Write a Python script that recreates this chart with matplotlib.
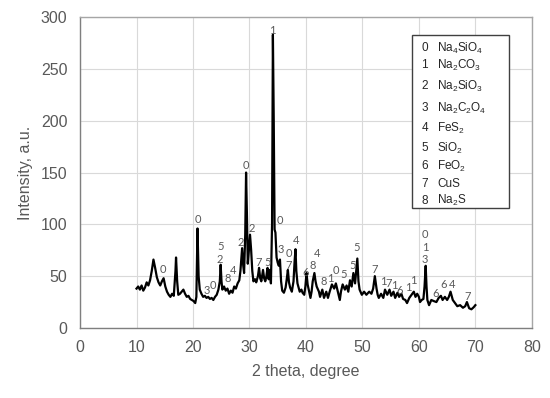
import matplotlib
matplotlib.use("Agg")
import matplotlib.pyplot as plt
from matplotlib.patches import Rectangle

plt.rcParams['font.family'] = ['Liberation Sans', 'DejaVu Sans']
plt.rcParams['mathtext.fontset'] = 'custom'
plt.rcParams['mathtext.rm'] = 'Liberation Sans'
plt.rcParams['mathtext.it'] = 'Liberation Sans:italic'
plt.rcParams['mathtext.default'] = 'rm'

# XRD pattern
two_theta = [10.0, 10.3, 10.6, 10.9, 11.2, 11.5, 11.8, 12.1, 12.4, 12.7, 13.0, 13.3, 13.6, 13.9,
             14.2, 14.5, 14.8, 15.1, 15.4, 15.7, 16.0, 16.3, 16.6, 16.9, 17.0, 17.2, 17.4, 17.7,
             18.0, 18.3, 18.6, 18.9, 19.2, 19.5, 19.8, 20.1, 20.4, 20.6, 20.8, 21.0, 21.2, 21.5,
             21.8, 22.1, 22.4, 22.7, 23.0, 23.3, 23.6, 23.9, 24.2, 24.5, 24.75, 24.9, 25.05, 25.2,
             25.5, 25.8, 26.1, 26.4, 26.7, 27.0, 27.3, 27.6, 27.9, 28.2, 28.4, 28.7, 28.9, 29.05,
             29.25, 29.4, 29.55, 29.7, 29.9, 30.1, 30.3, 30.5, 30.7, 31.0, 31.2, 31.5, 31.7, 31.9,
             32.1, 32.4, 32.6, 32.8, 33.0, 33.2, 33.4, 33.6, 33.8, 34.0, 34.15, 34.3, 34.45, 34.6,
             34.8, 35.0, 35.2, 35.4, 35.6, 35.8, 36.1, 36.4, 36.6, 36.8, 37.0, 37.2, 37.5, 37.8,
             38.0, 38.15, 38.3, 38.5, 38.9, 39.2, 39.4, 39.7, 39.9, 40.1, 40.3, 40.5, 40.8, 41.0,
             41.2, 41.5, 41.7, 41.9, 42.3, 42.5, 42.9, 43.2, 43.6, 43.9, 44.2, 44.6, 45.0, 45.3,
             45.7, 46.0, 46.2, 46.5, 46.9, 47.2, 47.5, 47.8, 48.1, 48.4, 48.7, 48.9, 49.1, 49.3,
             49.5, 49.9, 50.3, 50.7, 51.2, 51.6, 51.9, 52.2, 52.5, 52.7, 52.9, 53.3, 53.7, 54.0,
             54.4, 54.8, 55.1, 55.5, 55.8, 56.2, 56.5, 56.9, 57.2, 57.6, 57.9, 58.3, 58.7, 59.1,
             59.4, 59.7, 60.0, 60.2, 60.5, 60.8, 61.0, 61.2, 61.35, 61.5, 61.8, 62.2, 62.6, 63.1,
             63.5, 63.9, 64.2, 64.6, 65.0, 65.3, 65.6, 66.0, 66.4, 66.8, 67.3, 67.8, 68.2, 68.5,
             68.9, 69.3, 69.7, 70.0]
intensity = [38, 40, 37, 41, 36, 39, 44, 41, 46, 55, 66, 58, 49, 44,
             41, 45, 48, 40, 35, 32, 30, 33, 31, 55, 68, 45, 32, 33,
             35, 37, 33, 30, 31, 28, 27, 26, 24, 30, 96, 50, 37, 33,
             30, 31, 29, 30, 28, 29, 27, 30, 32, 37, 45, 61, 45, 37,
             40, 36, 38, 33, 36, 34, 40, 38, 43, 46, 55, 77, 60, 53,
             90, 150, 110, 62, 75, 90, 75, 55, 45, 47, 44, 50, 58, 48,
             45, 56, 48, 45, 50, 58, 47, 56, 43, 100, 283, 200, 95, 92,
             68, 63, 60, 66, 45, 36, 34, 39, 47, 56, 44, 39, 35, 45,
             65, 76, 55, 43, 35, 37, 34, 32, 40, 53, 42, 37, 29, 35,
             45, 53, 45, 40, 35, 30, 37, 29, 35, 29, 35, 42, 38, 43,
             34, 27, 35, 42, 37, 41, 35, 46, 40, 53, 43, 55, 67, 45,
             37, 32, 35, 32, 35, 33, 38, 50, 38, 32, 29, 33, 29, 37,
             32, 37, 31, 35, 29, 34, 30, 33, 28, 27, 24, 29, 32, 35,
             30, 33, 30, 25, 27, 28, 40, 60, 40, 27, 22, 27, 26, 25,
             29, 31, 27, 30, 27, 30, 35, 27, 24, 21, 22, 19.5, 21, 25,
             19, 18, 20, 22]

# peak markers (phase index) and where they sit
peak_x = [14.7, 20.8, 22.4, 23.6, 24.9, 24.8, 26.1, 27.1, 28.4, 29.4, 30.4, 31.7, 33.2,
          34.1, 35.3, 35.5, 36.9, 36.9, 38.2, 40.0, 41.2, 42.0, 43.2, 44.4, 45.3, 46.7,
          48.2, 49.0, 52.2, 53.7, 54.7, 55.6, 56.6, 58.2, 59.1, 61.1, 61.1, 61.1, 63.0,
          64.4, 65.8, 68.7]
peak_y = [56, 105, 36, 40.5, 79, 65.6, 47.5, 55, 82, 156.5, 96, 63, 63,
          287, 104, 76, 72, 60.7, 84, 53.3, 60, 71.4, 44.7, 48, 55, 52,
          60, 77.5, 56, 44.7, 43, 40.5, 36, 39, 45.6, 90, 78, 66, 33.5,
          41.5, 41.5, 30]
peak_txt = ['0', '0', '3', '0', '5', '2', '8', '4', '2', '0', '2', '7', '5',
            '1', '0', '3', '0', '7', '4', '6', '8', '4', '8', '1', '0', '5',
            '5', '5', '7', '1', '7', '1', '6', '1', '1', '0', '1', '3', '6',
            '6', '4', '7']

phase_ids = ['0', '1', '2', '3', '4', '5', '6', '7', '8']
phase_names = [r'Na$_4$SiO$_4$', r'Na$_2$CO$_3$', r'Na$_2$SiO$_3$', r'Na$_2$C$_2$O$_4$',
               r'FeS$_2$', r'SiO$_2$', r'FeO$_2$', 'CuS', r'Na$_2$S']

grey = '#595959'

fig, ax = plt.subplots(figsize=(5.5, 3.98), dpi=100)
fig.subplots_adjust(left=0.1455, right=0.967, bottom=0.176, top=0.957)

ax.plot(two_theta, intensity, color='black', linewidth=1.6, zorder=3)

for px, py, t in zip(peak_x, peak_y, peak_txt):
    ax.text(px, py, t, ha='center', va='center', fontsize=8, color=grey,
            family=['Lato', 'DejaVu Sans'], zorder=4)

ax.set_xlim(0, 80)
ax.set_ylim(0, 300)
ax.set_xticks(range(0, 81, 10))
ax.set_yticks(range(0, 301, 50))
ax.grid(True, color='#d9d9d9', linewidth=0.8, zorder=0)
ax.set_axisbelow(True)
ax.tick_params(length=0, labelsize=11.5, labelcolor=grey, pad=9)
for side in ['top', 'right']:
    ax.spines[side].set_color('#a6a6a6')
    ax.spines[side].set_linewidth(1.0)
for side in ['left', 'bottom']:
    ax.spines[side].set_color('#7f7f7f')
    ax.spines[side].set_linewidth(1.0)

ax.set_xlabel('2 theta, degree', fontsize=11.5, color=grey, labelpad=6)
ax.set_ylabel('Intensity, a.u.', fontsize=11.5, color=grey, labelpad=6)

# legend box drawn by hand (Excel-style text box)
ax.add_patch(Rectangle((0.734, 0.385), 0.216, 0.557, transform=ax.transAxes,
                       facecolor='white', edgecolor='#404040', linewidth=1.0, zorder=5))
row_y = [0.900, 0.846, 0.778, 0.707, 0.643, 0.579, 0.521, 0.463, 0.409]
for yy, pid, name in zip(row_y, phase_ids, phase_names):
    ax.text(0.763, yy, pid, transform=ax.transAxes, ha='center', va='center',
            fontsize=8.5, color='#262626', zorder=6)
    ax.text(0.791, yy, name, transform=ax.transAxes, ha='left', va='center',
            fontsize=8.5, color='#262626', zorder=6)

fig.savefig('out.png', dpi=100)
